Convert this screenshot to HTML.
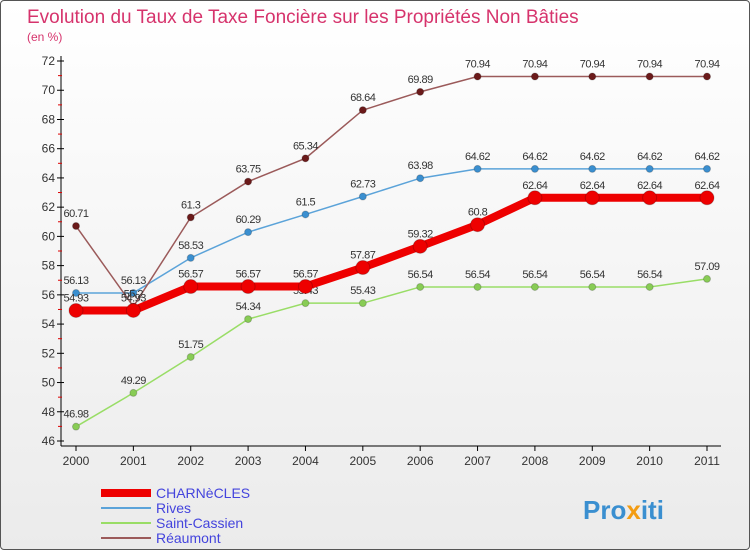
<!DOCTYPE html>
<html><head><meta charset="utf-8"><style>
body{margin:0}
#wrap{width:750px;height:550px;position:relative;background:linear-gradient(#ffffff,#ebebeb);box-sizing:border-box;border:1px solid #555;border-radius:4px;overflow:hidden;font-family:"Liberation Sans",sans-serif}
</style></head><body>
<div id="wrap">
<svg id="c" width="750" height="550" xmlns="http://www.w3.org/2000/svg">
<text x="26" y="22" font-size="19" fill="#d6336c">Evolution du Taux de Taxe Foncière sur les Propriétés Non Bâties</text>
<text x="26" y="40" font-size="12" fill="#d6336c">(en %)</text>
<g id="axes"></g><g id="series"></g><g id="legend"></g>
<text x="582" y="518" font-size="26" font-weight="bold" fill="#3a8fd0">Pro<tspan fill="#f39c12">x</tspan>iti</text>
</svg></div>
<script>
const years=[2000,2001,2002,2003,2004,2005,2006,2007,2008,2009,2010,2011];
const charnecles=[54.93,54.93,56.57,56.57,56.57,57.87,59.32,60.8,62.64,62.64,62.64,62.64];
const rives=[56.13,56.13,58.53,60.29,61.5,62.73,63.98,64.62,64.62,64.62,64.62,64.62];
const saintCassien=[46.98,49.29,51.75,54.34,55.43,55.43,56.54,56.54,56.54,56.54,56.54,57.09];
const reaumont=[60.71,55.2,61.3,63.75,65.34,68.64,69.89,70.94,70.94,70.94,70.94,70.94];
const yTicks=[46,48,50,52,54,56,58,60,62,64,66,68,70,72];
const NS="http://www.w3.org/2000/svg";
const X=i=>75+i*(706-75)/(years.length-1);
const Y=v=>60+(72-v)*(440-60)/(72-46);
function mk(t,a,p){const e=document.createElementNS(NS,t);for(const k in a)e.setAttribute(k,a[k]);p.appendChild(e);return e;}
const ax=document.getElementById('axes');
const yl=mk('line',{x1:60,y1:55,x2:60,y2:445,stroke:'#000'},ax);


const xl=mk('line',{x1:60,y1:445,x2:720,y2:445,stroke:'#000'},ax);


yTicks.forEach(v=>{
 mk('line',{x1:56,y1:Y(v),x2:63,y2:Y(v),stroke:'#000'},ax);
 if(v<72)mk('line',{x1:57,y1:Y(v+1),x2:61,y2:Y(v+1),stroke:'#d00'},ax);
 const t=mk('text',{x:54,y:Y(v)+4,'font-size':12,fill:'#333','text-anchor':'end'},ax);t.textContent=v;
 
 
});
years.forEach((y,i)=>{
 mk('line',{x1:X(i),y1:445,x2:X(i),y2:450,stroke:'#000'},ax);
 const t=mk('text',{x:X(i),y:464,'font-size':12,fill:'#333','text-anchor':'middle'},ax);t.textContent=y;
 
 
});
const sg=document.getElementById('series');
function series(vals,color,w,r,name,fill){
 const g=mk('g',{},sg);
 
 
 mk('polyline',{points:vals.map((v,i)=>X(i)+','+Y(v)).join(' '),fill:'none',stroke:color,'stroke-width':w},g);
 vals.forEach((v,i)=>{
  const c=mk('circle',{cx:X(i),cy:Y(v),r:r,fill:fill,stroke:'#0003'},g);
  
  
  const t=mk('text',{x:X(i),y:Y(v)-9,'font-size':11,fill:'#333','text-anchor':'middle','letter-spacing':'-0.5'},g);t.textContent=v;
  
  
 });
}
series(saintCassien,'#99dd66',1.5,3.5,'series-saint-cassien','#88cc55');
series(rives,'#5ba3d9',1.5,3.5,'series-rives','#3a8fd0');
series(reaumont,'#9b5a5a',1.5,3.5,'series-reaumont','#6b1a1a');
series(charnecles,'#ee0000',8,7,'series-charnecles','#ee0000');
const lg=document.getElementById('legend');
const items=[['CHARNèCLES','#ee0000',8],['Rives','#5ba3d9',2],['Saint-Cassien','#99dd66',2],['Réaumont','#9b5a5a',2]];
items.forEach((it,i)=>{
 const y=492+i*15;
 const g=mk('g',{},lg);
 
 
 mk('line',{x1:100,y1:y,x2:150,y2:y,stroke:it[1],'stroke-width':it[2]},g);
 const t=mk('text',{x:155,y:y+5,'font-size':14,fill:'#4444dd'},g);t.textContent=it[0];
});
</script>
</body></html>
